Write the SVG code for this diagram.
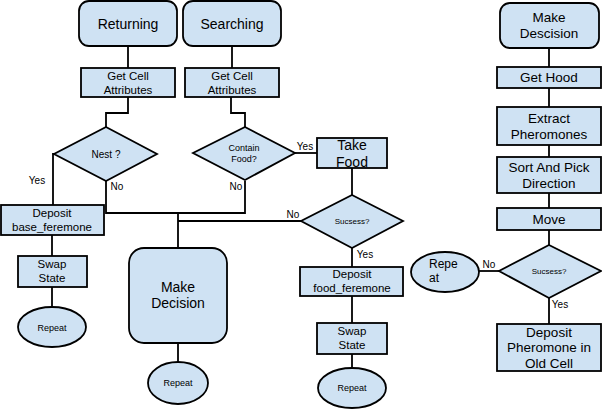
<svg xmlns="http://www.w3.org/2000/svg" width="602" height="409" viewBox="0 0 602 409">
<style>
.n{fill:#cfe2f3;stroke:#000;stroke-width:1.8}
.c{fill:none;stroke:#000;stroke-width:1.8}
text{font-family:"Liberation Sans",Arial,sans-serif;fill:#000;text-anchor:middle}
.t14{font-size:14px}
.t13{font-size:13.5px}
.t11{font-size:11.5px}
.t10{font-size:10px}
.t9{font-size:9px}
.t8{font-size:8px}
.lbl{font-size:10px}
</style>
<rect width="602" height="409" fill="#fff"/>
<g id="connectors">
<line class="c" x1="128" y1="46" x2="128" y2="68"/>
<line class="c" x1="232" y1="46" x2="232" y2="68"/>
<polyline class="c" points="128,97 128,113 106,113 106,127"/>
<polyline class="c" points="231,97 231,113 245,113 245,127"/>
<polyline class="c" points="54,154 53,154 53,205"/>
<polyline class="c" points="106,181 106,213 245,213 245,181"/>
<line class="c" x1="178" y1="213" x2="178" y2="248"/>
<line class="c" x1="301" y1="221" x2="178" y2="221"/>
<line class="c" x1="295" y1="153" x2="317" y2="153"/>
<line class="c" x1="352" y1="168" x2="352" y2="195"/>
<line class="c" x1="352" y1="248" x2="352" y2="267"/>
<line class="c" x1="352" y1="296" x2="352" y2="323"/>
<line class="c" x1="352" y1="354" x2="352" y2="368"/>
<line class="c" x1="52" y1="235" x2="52" y2="256"/>
<line class="c" x1="52" y1="287" x2="52" y2="307"/>
<line class="c" x1="178" y1="343" x2="178" y2="362"/>
<line class="c" x1="549" y1="48" x2="549" y2="67"/>
<line class="c" x1="549" y1="88" x2="549" y2="107"/>
<line class="c" x1="549" y1="145" x2="549" y2="157"/>
<line class="c" x1="549" y1="193" x2="549" y2="208"/>
<line class="c" x1="549" y1="230" x2="549" y2="245"/>
<line class="c" x1="549" y1="298" x2="549" y2="324"/>
<line class="c" x1="499" y1="271" x2="479" y2="271"/>
<text class="lbl" x="37" y="184">Yes</text>
<text class="lbl" x="117" y="190">No</text>
<text class="lbl" x="236" y="190">No</text>
<text class="lbl" x="305" y="150">Yes</text>
<text class="lbl" x="293" y="218">No</text>
<text class="lbl" x="365" y="258">Yes</text>
<text class="lbl" x="489" y="268">No</text>
<text class="lbl" x="560" y="308">Yes</text>
</g>
<g id="returning">
<rect class="n" x="79" y="1" width="98" height="45" rx="10"/>
<text class="t14" x="128" y="29">Returning</text>
</g>
<g id="searching">
<rect class="n" x="183" y="1" width="98" height="45" rx="10"/>
<text class="t14" x="232" y="29">Searching</text>
</g>
<g id="getcell1">
<rect class="n" x="81" y="68" width="94" height="29"/>
<text class="t11" x="128" y="80">Get Cell</text>
<text class="t11" x="128" y="94">Attributes</text>
</g>
<g id="getcell2">
<rect class="n" x="185" y="68" width="94" height="29"/>
<text class="t11" x="232" y="80">Get Cell</text>
<text class="t11" x="232" y="94">Attributes</text>
</g>
<g id="nest">
<polygon class="n" points="106,127 157,154 106,181 54,154"/>
<text class="t10" x="106" y="158">Nest ?</text>
</g>
<g id="containfood">
<polygon class="n" points="245,127 295,153 245,180 193,153"/>
<text class="t9" x="244" y="151">Contain</text>
<text class="t9" x="244" y="162">Food?</text>
</g>
<g id="takefood">
<rect class="n" x="317" y="138" width="70" height="30"/>
<text class="t14" x="352" y="150">Take</text>
<text class="t14" x="352" y="167">Food</text>
</g>
<g id="success1">
<polygon class="n" points="352,195 403,221 352,248 301,221"/>
<text class="t8" x="352" y="224">Sucsess?</text>
</g>
<g id="depositbase">
<rect class="n" x="1" y="205" width="103" height="30"/>
<text class="t11" x="52" y="217">Deposit</text>
<text class="t11" x="52" y="231">base_feremone</text>
</g>
<g id="swap1">
<rect class="n" x="18" y="256" width="69" height="31"/>
<text class="t11" x="52" y="268">Swap</text>
<text class="t11" x="52" y="282">State</text>
</g>
<g id="repeat1">
<ellipse class="n" cx="52" cy="327" rx="34" ry="20"/>
<text class="t9" x="52" y="331">Repeat</text>
</g>
<g id="makedecision">
<rect class="n" x="129" y="248" width="98" height="95" rx="15"/>
<text class="t14" x="178" y="292">Make</text>
<text class="t14" x="178" y="308">Decision</text>
</g>
<g id="repeat2">
<ellipse class="n" cx="178" cy="383" rx="30" ry="21"/>
<text class="t9" x="178" y="386">Repeat</text>
</g>
<g id="depositfood">
<rect class="n" x="300" y="267" width="103" height="29"/>
<text class="t11" x="352" y="278">Deposit</text>
<text class="t11" x="352" y="292">food_feremone</text>
</g>
<g id="swap2">
<rect class="n" x="317" y="323" width="70" height="31"/>
<text class="t11" x="352" y="335">Swap</text>
<text class="t11" x="352" y="349">State</text>
</g>
<g id="repeat3">
<ellipse class="n" cx="352" cy="388" rx="34" ry="20"/>
<text class="t9" x="352" y="391">Repeat</text>
</g>
<g id="makedescision">
<rect class="n" x="500" y="3" width="99" height="45" rx="10"/>
<text class="t13" x="549" y="22">Make</text>
<text class="t13" x="549" y="38">Descision</text>
</g>
<g id="gethood">
<rect class="n" x="497" y="67" width="104" height="21"/>
<text class="t13" x="549" y="82">Get Hood</text>
</g>
<g id="extract">
<rect class="n" x="497" y="107" width="104" height="38"/>
<text class="t13" x="549" y="123">Extract</text>
<text class="t13" x="549" y="139">Pheromones</text>
</g>
<g id="sortpick">
<rect class="n" x="497" y="157" width="104" height="36"/>
<text class="t13" x="549" y="172">Sort And Pick</text>
<text class="t13" x="549" y="188">Direction</text>
</g>
<g id="move">
<rect class="n" x="497" y="208" width="104" height="22"/>
<text class="t13" x="549" y="224">Move</text>
</g>
<g id="success2">
<polygon class="n" points="549,245 601,271 549,298 499,271"/>
<text class="t8" x="549" y="274">Sucsess?</text>
</g>
<g id="repeat4">
<ellipse class="n" cx="445" cy="272" rx="34" ry="20"/>
<text style="font-size:12px;text-anchor:start" x="429" y="268">Repe</text>
<text style="font-size:12px;text-anchor:start" x="429" y="282">at</text>
</g>
<g id="depositpheromone">
<rect class="n" x="497" y="324" width="104" height="47"/>
<text class="t13" x="549" y="337">Deposit</text>
<text class="t13" x="549" y="352">Pheromone in</text>
<text class="t13" x="549" y="368">Old Cell</text>
</g>
</svg>
